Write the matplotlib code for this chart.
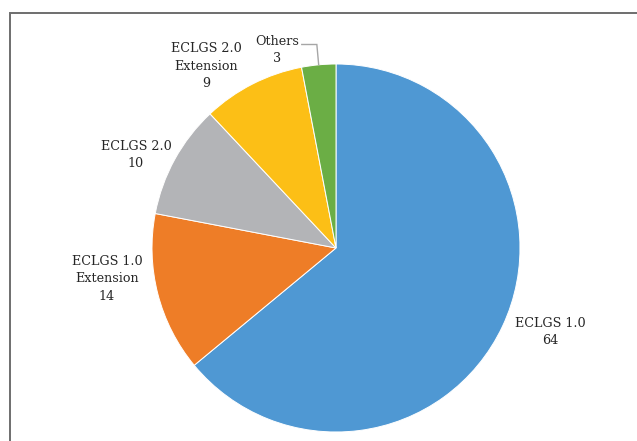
import numpy as np
import matplotlib
matplotlib.use("Agg")
import matplotlib.pyplot as plt
from matplotlib.patches import Rectangle

# data
names = ["ECLGS 1.0", "ECLGS 1.0\nExtension", "ECLGS 2.0", "ECLGS 2.0\nExtension", "Others"]
values = [64, 14, 10, 9, 3]
colors = ["#4F98D3", "#EE7D27", "#B3B4B7", "#FCBF16", "#6BAE45"]

# label centres in data units (pie radius = 1)
label_xy = [(1.163, -0.457), (-1.245, -0.168), (-1.087, 0.505), (-0.707, 0.989), (-0.321, 1.076)]

plt.rcParams["font.family"] = ["DejaVu Serif"]

fig = plt.figure(figsize=(6.37, 4.41), dpi=100)
ax = fig.add_axes([0, 0, 1, 1])

wedges, _ = ax.pie(values, colors=colors, startangle=90, counterclock=False,
                   radius=1, center=(0, 0),
                   wedgeprops=dict(edgecolor="white", linewidth=0.7))

# pixel mapping: centre at (336, 248), radius 184 px
ax.set_xlim(-336 / 184, (637 - 336) / 184)
ax.set_ylim(-(441 - 248) / 184, 248 / 184)
ax.set_aspect("auto")
ax.axis("off")

for name, v, (x, y) in zip(names, values, label_xy):
    ax.text(x, y, f"{name}\n{v}", ha="center", va="center", fontsize=9.2,
            color="#262626", linespacing=1.45)

# leader line for the small slice
w = wedges[-1]
mid = np.deg2rad((w.theta1 + w.theta2) / 2)
ex, ey = np.cos(mid), np.sin(mid)
ly = label_xy[-1][1] + 0.03
ax.plot([ex, ex - 0.01, label_xy[-1][0] + 0.135], [ey, ly, ly],
        color="#A6A6A6", lw=1.0, solid_joinstyle="miter", clip_on=False)

# outer frame
fig.add_artist(Rectangle((10 / 637, -0.1), 1.1, 1 - 12.5 / 441 + 0.1,
                         transform=fig.transFigure, fill=False,
                         edgecolor="#6E6E6E", linewidth=1.4))

fig.savefig("out.png", dpi=100)
